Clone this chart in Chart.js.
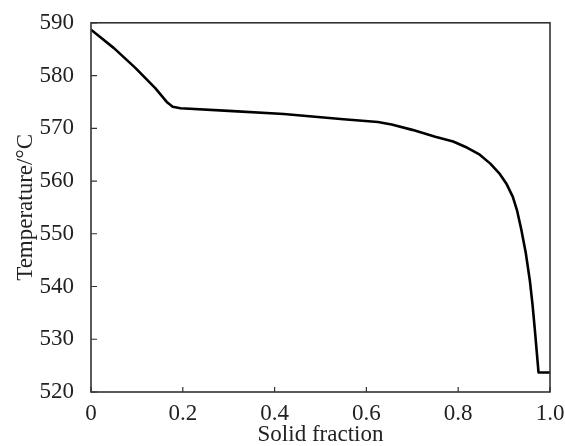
<!DOCTYPE html>
<html>
<head>
<meta charset="utf-8">
<script src="https://cdn.jsdelivr.net/npm/chart.js@4/dist/chart.umd.min.js"></script>
<style>
  html, body { margin: 0; padding: 0; background: #fff; }
  #wrap { width: 565px; height: 446px; }
</style>
</head>
<body>
<div id="wrap"><canvas id="chart" width="565" height="446"></canvas></div>
<script>
// solid fraction vs temperature
const solidFraction = [0, 0.05, 0.096, 0.14, 0.165, 0.178, 0.195, 0.3, 0.42, 0.55, 0.625, 0.655, 0.7, 0.75, 0.789, 0.82, 0.847, 0.87, 0.891, 0.905, 0.919, 0.928, 0.937, 0.947, 0.956, 0.962, 0.967, 0.975, 1.0];
const temperature = [588.7, 585.2, 581.5, 577.6, 575.0, 574.1, 573.8, 573.3, 572.7, 571.7, 571.2, 570.7, 569.7, 568.4, 567.5, 566.3, 565.0, 563.3, 561.3, 559.5, 557.0, 554.5, 551.0, 546.5, 541.2, 536.5, 531.8, 523.7, 523.7];
const xTicks = [0, 0.2, 0.4, 0.6, 0.8, 1.0];
const yTicks = [520, 530, 540, 550, 560, 570, 580, 590];

const FONT = 'Liberation Serif';
const INK = '#222';

// frame box + inward tick marks
const framePlugin = {
    id: 'frame',
    afterDraw(chart) {
        const ctx = chart.ctx;
        const a = chart.chartArea;
        const xs = chart.scales.x;
        const ys = chart.scales.y;
        ctx.save();
        ctx.strokeStyle = '#333';
        ctx.lineWidth = 1.6;
        ctx.strokeRect(a.left, a.top, a.right - a.left, a.bottom - a.top);
        ctx.lineWidth = 1.2;
        ctx.beginPath();
        xTicks.forEach(v => {
            const px = xs.getPixelForValue(v);
            ctx.moveTo(px, a.bottom);
            ctx.lineTo(px, a.bottom - 5);
        });
        yTicks.forEach(v => {
            const py = ys.getPixelForValue(v);
            ctx.moveTo(a.left, py);
            ctx.lineTo(a.left + 6, py);
        });
        ctx.stroke();
        ctx.restore();
    }
};

new Chart(document.getElementById('chart'), {
    type: 'line',
    data: {
        datasets: [{
            data: solidFraction.map((x, i) => ({ x: x, y: temperature[i] })),
            borderColor: '#000',
            borderWidth: 2.6,
            pointRadius: 0,
            tension: 0,
            borderJoinStyle: 'round',
            fill: false
        }]
    },
    options: {
        responsive: false,
        animation: false,
        layout: { padding: { top: 22, right: 15, left: 0, bottom: 0 } },
        plugins: { legend: { display: false }, tooltip: { enabled: false } },
        scales: {
            x: {
                type: 'linear',
                min: 0,
                max: 1,
                afterBuildTicks: s => { s.ticks = xTicks.map(v => ({ value: v })); },
                afterFit: s => { s.height = 54; },
                grid: { display: false },
                border: { display: false },
                ticks: {
                    color: INK,
                    padding: 0,
                    maxRotation: 0,
                    font: { family: FONT, size: 23 },
                    callback: v => (v === 0 ? '0' : v.toFixed(1))
                },
                title: {
                    display: true,
                    text: 'Solid fraction',
                    color: INK,
                    padding: { top: 0, bottom: -3 },
                    font: { family: FONT, size: 23 }
                }
            },
            y: {
                type: 'linear',
                min: 520,
                max: 590,
                afterBuildTicks: s => { s.ticks = yTicks.map(v => ({ value: v })); },
                afterFit: s => { s.width = 91; },
                grid: { display: false },
                border: { display: false },
                ticks: {
                    color: INK,
                    padding: 9,
                    font: { family: FONT, size: 23 }
                },
                title: {
                    display: true,
                    text: 'Temperature/°C',
                    color: INK,
                    padding: { top: 12, bottom: 0 },
                    font: { family: FONT, size: 23 }
                }
            }
        }
    },
    plugins: [framePlugin]
});
</script>
</body>
</html>
